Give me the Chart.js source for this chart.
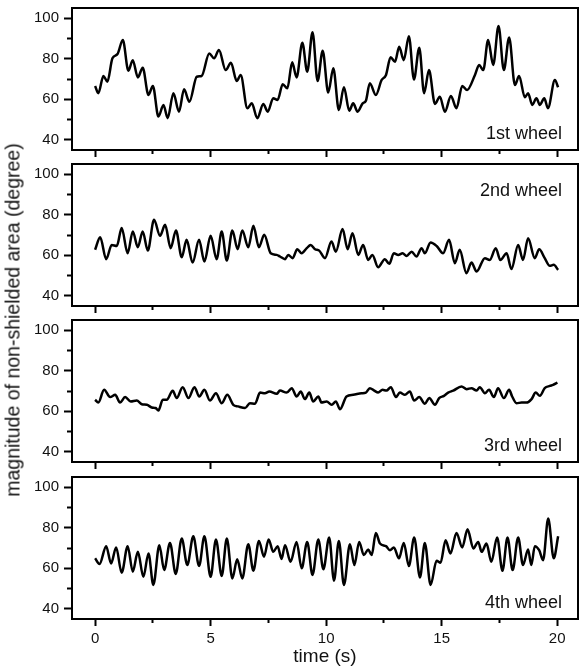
<!DOCTYPE html>
<html>
<head>
<meta charset="utf-8">
<script src="https://cdn.jsdelivr.net/npm/chart.js@4/dist/chart.umd.min.js"></script>
<style>
  html, body { margin: 0; padding: 0; background: #fff; }
  #wrap { position: relative; width: 580px; height: 671px; overflow: hidden; }
  #wrap canvas { position: absolute; left: 0; }
  #ytitle {
    position: absolute; left: 13px; top: 320px;
    transform: translate(-50%, -50%) rotate(-90deg);
    white-space: nowrap; color: #111;
    font: 19.5px "Liberation Sans", Arial, sans-serif;
  }
</style>
</head>
<body>
<div id="wrap">
  <canvas id="c1" width="580" height="160" style="top:0px"></canvas>
  <canvas id="c2" width="580" height="156" style="top:160px"></canvas>
  <canvas id="c3" width="580" height="156" style="top:316px"></canvas>
  <canvas id="c4" width="580" height="199" style="top:472px"></canvas>
  <div id="ytitle">magnitude of non-shielded area (degree)</div>
</div>
<script>
// axis ticks
const xMajor = [0, 5, 10, 15, 20];
const xMinor = [2.5, 7.5, 12.5, 17.5];
const yMajor = [40, 60, 80, 100];
const yMinor = [50, 70, 90];
const wheelNames = ['1st wheel', '2nd wheel', '3rd wheel', '4th wheel'];

// 1st wheel
const t1 = [0, 0.14, 0.36, 0.53, 0.75, 0.97, 1.2, 1.44, 1.63, 1.85, 2.06, 2.31, 2.5, 2.74, 2.96, 3.14, 3.39, 3.63, 3.85, 4.08, 4.4, 4.61, 4.94, 5.15, 5.36, 5.65, 5.88, 6.13, 6.3, 6.59, 6.78, 7.02, 7.28, 7.47, 7.71, 7.9, 8.12, 8.32, 8.53, 8.72, 8.97, 9.18, 9.41, 9.63, 9.85, 10.09, 10.31, 10.55, 10.77, 11.0, 11.17, 11.36, 11.58, 11.72, 11.89, 12.15, 12.4, 12.59, 12.79, 12.98, 13.16, 13.36, 13.58, 13.8, 14.03, 14.24, 14.45, 14.71, 14.92, 15.14, 15.4, 15.64, 15.89, 16.1, 16.44, 16.62, 16.8, 17.01, 17.23, 17.46, 17.69, 17.92, 18.17, 18.35, 18.6, 18.74, 18.92, 19.1, 19.25, 19.44, 19.6, 19.9, 20.04];
const w1 = [66.6, 63, 71.5, 68.7, 80.2, 82.3, 89.2, 74.1, 79.3, 70.8, 75.6, 62.1, 66.6, 51.5, 57.2, 50.7, 63, 53.9, 64.9, 58.8, 71.1, 71.5, 82.6, 80.2, 84.3, 74.4, 78, 69, 72, 55.6, 58, 50.7, 57.7, 53.9, 60.5, 59.7, 67.4, 65.4, 78.2, 70.8, 87.9, 73.6, 93, 69, 83.9, 63.3, 75.3, 54.7, 65.9, 54.4, 58, 53.9, 58, 59.3, 67.9, 62.1, 69.5, 72, 80.7, 78.5, 85.9, 79.3, 91.1, 69.8, 85.4, 63, 74.4, 57.7, 61.3, 53.9, 61.6, 55.6, 66.6, 64.6, 72, 76.9, 74.4, 89.2, 76.9, 96.1, 74.4, 90.5, 67, 71.5, 61, 63, 57.2, 60.5, 57.2, 60.5, 55.6, 69.5, 65.9];

// 2nd wheel
const t2 = [0, 0.22, 0.48, 0.72, 0.94, 1.15, 1.41, 1.63, 1.85, 2.06, 2.28, 2.55, 2.81, 3.03, 3.27, 3.5, 3.75, 3.96, 4.22, 4.5, 4.73, 5.0, 5.26, 5.48, 5.7, 5.94, 6.17, 6.37, 6.63, 6.85, 7.09, 7.32, 7.6, 7.86, 8.0, 8.22, 8.36, 8.55, 8.75, 8.94, 9.16, 9.33, 9.52, 9.7, 9.95, 10.23, 10.42, 10.71, 10.93, 11.14, 11.39, 11.6, 11.82, 12.0, 12.25, 12.54, 12.73, 12.93, 13.12, 13.31, 13.48, 13.7, 13.91, 14.13, 14.27, 14.52, 14.78, 15.06, 15.32, 15.57, 15.78, 16.07, 16.29, 16.51, 16.87, 17.08, 17.34, 17.54, 17.81, 18.02, 18.31, 18.52, 18.74, 19.03, 19.22, 19.46, 19.68, 19.85, 20.04];
const w2 = [62.7, 68.9, 58.1, 65.1, 64.6, 73.4, 61, 71.7, 64, 71.7, 62.3, 77.5, 69.6, 75, 63.5, 72.2, 59, 67.6, 56.4, 67.6, 56.9, 69.6, 58.1, 71.7, 57.4, 72.2, 63, 72.2, 64, 74.5, 64, 70.1, 61, 60.2, 59.4, 58.1, 60.2, 58.6, 63, 61, 63.5, 65.1, 63, 62.3, 58.6, 66.8, 61.8, 72.9, 63, 70.9, 60.2, 65.1, 57.7, 60.2, 54.1, 58.1, 55.8, 61, 60.2, 61, 59.7, 61.8, 59.4, 63.5, 61, 66.3, 64.6, 61, 67.6, 56.1, 62.7, 51.2, 56.4, 52, 58.6, 57.7, 63.5, 57.7, 61, 53.2, 65.1, 57.7, 68.4, 58.6, 63, 58.6, 54.8, 55.3, 52.8];

// 3rd wheel
const t3 = [0, 0.14, 0.39, 0.65, 0.87, 1.08, 1.3, 1.54, 1.8, 2.02, 2.24, 2.45, 2.62, 2.74, 2.93, 3.1, 3.36, 3.53, 3.79, 4.04, 4.3, 4.51, 4.73, 4.97, 5.23, 5.48, 5.72, 5.98, 6.19, 6.49, 6.7, 6.92, 7.14, 7.35, 7.54, 7.86, 8.0, 8.29, 8.51, 8.72, 8.9, 9.08, 9.27, 9.44, 9.66, 9.8, 10.02, 10.24, 10.42, 10.6, 10.88, 11.17, 11.53, 11.72, 11.89, 12.08, 12.25, 12.44, 12.61, 12.8, 13.02, 13.19, 13.41, 13.62, 13.81, 14.03, 14.27, 14.46, 14.71, 14.89, 15.1, 15.28, 15.5, 15.86, 16.08, 16.29, 16.51, 16.65, 16.87, 17.05, 17.26, 17.44, 17.69, 17.92, 18.05, 18.24, 18.46, 18.67, 18.89, 19.07, 19.25, 19.46, 19.68, 19.82, 20.01];
const w3 = [65.7, 64.3, 70.6, 67, 68.1, 64.3, 67, 64.8, 65.3, 63.5, 63.2, 61.9, 61.6, 60.4, 65.7, 65.7, 70.1, 66.5, 71.9, 66.5, 71.9, 67.3, 70.6, 65.3, 68.9, 64, 68.1, 63.2, 62.4, 61.6, 64, 63.7, 69.2, 68.9, 69.7, 68.6, 70.2, 69.2, 71.4, 67.3, 69.7, 66, 69.2, 64.8, 67.3, 64.3, 64.8, 63.2, 64.8, 61, 67.3, 68.1, 68.9, 69.2, 71.4, 70.2, 69.2, 70.6, 70.2, 71.9, 67, 69.2, 68.1, 69.7, 65.3, 67, 63.7, 66.5, 63.2, 66.5, 67.6, 69.2, 70.2, 72.2, 70.9, 71.4, 70.2, 71.9, 68.9, 70.6, 67, 71.4, 66.5, 70.6, 67.3, 64, 64.3, 64.3, 66, 69.2, 67.6, 71.4, 72.5, 73, 74.1];

// 4th wheel
const t4 = [0, 0.19, 0.48, 0.69, 0.91, 1.15, 1.41, 1.63, 1.85, 2.09, 2.31, 2.52, 2.78, 2.99, 3.24, 3.49, 3.75, 3.99, 4.25, 4.5, 4.73, 5.0, 5.23, 5.48, 5.7, 5.94, 6.15, 6.37, 6.63, 6.85, 7.09, 7.31, 7.51, 7.71, 7.9, 8.07, 8.22, 8.46, 8.72, 8.94, 9.18, 9.41, 9.66, 9.88, 10.13, 10.34, 10.55, 10.77, 11.03, 11.22, 11.43, 11.63, 11.82, 11.97, 12.15, 12.33, 12.59, 12.76, 12.93, 13.15, 13.36, 13.58, 13.81, 14.06, 14.27, 14.52, 14.78, 14.95, 15.17, 15.38, 15.64, 15.89, 16.12, 16.37, 16.58, 16.73, 16.94, 17.15, 17.4, 17.63, 17.85, 18.07, 18.31, 18.52, 18.74, 18.88, 19.03, 19.22, 19.39, 19.61, 19.85, 20.04];
const w4 = [64.9, 62.1, 70.9, 62.4, 70.3, 57.8, 70.9, 58.3, 68.1, 55.8, 67.3, 51.8, 71.4, 59.1, 72.5, 57.2, 74.7, 61.6, 75.8, 61.1, 75.8, 55.8, 74.2, 56.2, 74.7, 55, 64.4, 55, 71.9, 58.8, 73.5, 65.7, 74.2, 68.1, 70.9, 64.6, 71.4, 63.2, 73, 60, 73, 56.7, 74.2, 59.5, 75.2, 53.9, 73.5, 51.8, 71.9, 61.6, 73, 66.5, 69.3, 66.5, 77.4, 72.2, 70.9, 68.9, 70.3, 64.9, 72.5, 61.1, 75.2, 55.5, 72.5, 51.8, 63.7, 62.7, 73.8, 67.3, 77.4, 70.3, 79.2, 69.8, 73, 68.1, 72.2, 63.2, 75.2, 58.8, 75.2, 59.1, 75.2, 61.6, 69.3, 61.6, 70.9, 68.9, 64, 84.5, 64.9, 75.8];

Chart.defaults.font.family = '"Liberation Sans", Arial, sans-serif';
Chart.defaults.color = '#111';

// frame box + wheel name inside each panel
const framePlugin = {
  id: 'frame',
  afterDraw(chart, args, opts) {
    const {ctx, chartArea: a} = chart;
    ctx.save();
    ctx.strokeStyle = '#000';
    ctx.lineWidth = 2;
    ctx.strokeRect(a.left, a.top, a.width, a.height);
    ctx.font = '18px "Liberation Sans", Arial, sans-serif';
    ctx.fillStyle = '#111';
    ctx.textAlign = 'right';
    ctx.textBaseline = 'alphabetic';
    const y = opts.atTop ? a.top + 32 : a.bottom - 11;
    ctx.fillText(opts.text, a.right - 16, y);
    ctx.restore();
  }
};

const panels = [
  {id: 'c1', t: t1, w: w1, padTop: 8, last: false, atTop: false},
  {id: 'c2', t: t2, w: w2, padTop: 4, last: false, atTop: true},
  {id: 'c3', t: t3, w: w3, padTop: 4, last: false, atTop: false},
  {id: 'c4', t: t4, w: w4, padTop: 5, last: true, atTop: false},
];

function tickGrid(len) {
  return {
    drawOnChartArea: false,
    tickLength: len,
    tickWidth: 2,
    tickColor: '#000',
  };
}

// fixed axis size, and no extra room asked for the edge labels
function fixSize(prop, size) {
  return s => {
    s[prop] = size;
    s.paddingTop = s.paddingBottom = s.paddingLeft = s.paddingRight = 0;
  };
}

panels.forEach((p, i) => {
  new Chart(document.getElementById(p.id), {
    type: 'line',
    data: {
      datasets: [{
        data: p.t.map((t, k) => ({x: t, y: p.w[k]})),
        borderColor: '#000',
        borderWidth: 2.5,
        pointRadius: 0,
        cubicInterpolationMode: 'monotone',
        fill: false,
      }]
    },
    options: {
      responsive: false,
      animation: false,
      events: [],
      layout: {padding: {top: p.padTop, right: 2, left: 0, bottom: 0}},
      plugins: {
        legend: {display: false},
        tooltip: {enabled: false},
        frame: {text: wheelNames[i], atTop: p.atTop},
      },
      scales: {
        x: {
          type: 'linear',
          min: -1,
          max: 20.9,
          weight: 0,
          afterBuildTicks: s => { s.ticks = xMajor.map(v => ({value: v})); },
          afterFit: fixSize('height', p.last ? 52 : 10),
          grid: tickGrid(7),
          border: {display: false},
          ticks: {display: p.last, padding: 4, font: {size: 15}},
          title: {
            display: p.last,
            text: 'time (s)',
            font: {size: 19},
            padding: {top: 0, bottom: 3},
          },
        },
        xm: {
          type: 'linear',
          position: 'bottom',
          min: -1,
          max: 20.9,
          weight: -1,
          afterBuildTicks: s => { s.ticks = xMinor.map(v => ({value: v})); },
          afterFit: fixSize('height', 0),
          grid: tickGrid(4),
          border: {display: false},
          ticks: {display: false},
        },
        y: {
          min: 35,
          max: 105,
          weight: 0,
          afterBuildTicks: s => { s.ticks = yMajor.map(v => ({value: v})); },
          afterFit: fixSize('width', 72),
          grid: tickGrid(8),
          border: {display: false},
          ticks: {padding: 5, font: {size: 15}},
        },
        ym: {
          position: 'left',
          min: 35,
          max: 105,
          weight: -1,
          afterBuildTicks: s => { s.ticks = yMinor.map(v => ({value: v})); },
          afterFit: fixSize('width', 0),
          grid: tickGrid(5),
          border: {display: false},
          ticks: {display: false},
        },
      },
    },
    plugins: [framePlugin],
  });
});
</script>
</body>
</html>
